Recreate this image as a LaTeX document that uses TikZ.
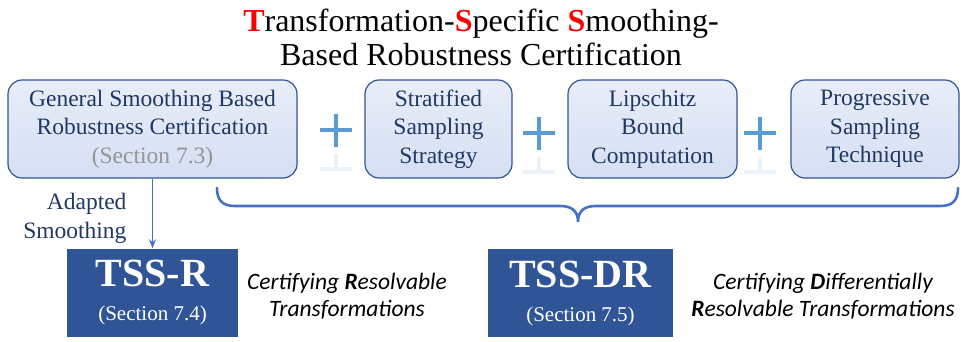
\documentclass[tikz,border=0pt]{standalone}
\usepackage{fontspec}
\setmainfont{Liberation Serif}
\newfontfamily\calib{Carlito}
\usetikzlibrary{arrows.meta}
\definecolor{navy}{HTML}{203864}
\definecolor{boxedge}{HTML}{2F5597}
\definecolor{boxtop}{HTML}{E8EDF8}
\definecolor{boxbot}{HTML}{D6DFF3}
\definecolor{darkbox}{HTML}{2F5597}
\definecolor{plusblue}{HTML}{5B9BD5}
\definecolor{bracecol}{HTML}{4472C4}
\definecolor{secgray}{HTML}{959595}
\tikzset{
  lightbox/.style={draw=boxedge, line width=1.2pt, rounded corners=14pt,
    top color=boxtop, bottom color=boxbot, minimum height=98pt,
    align=center, text=navy, inner sep=0pt,
    font=\fontsize{23.5}{28.5}\selectfont},
  darkboxst/.style={fill=darkbox, draw=none, minimum height=88pt,
    align=center, text=white, inner sep=0pt,
    font=\fontsize{21}{34}\selectfont},
  plusbar/.style={line width=4.5pt, plusblue},
  plusrefl/.style={line width=4.5pt, plusblue!13},
  ital/.style={align=center, font=\calib\itshape\fontsize{23.5}{27.5}\selectfont},
}
\begin{document}
\begin{tikzpicture}[x=1pt,y=-1pt]
\useasboundingbox (0,0) rectangle (963,341);
% title
\node[align=center, font=\fontsize{32}{34}\selectfont] (title) at (481,37)
  {\textcolor{red}{\textbf{T}}ransformation-\textcolor{red}{\textbf{S}}pecific \textcolor{red}{\textbf{S}}moothing-\\Based Robustness Certification};
% top boxes
\node[lightbox, minimum width=289pt] (b1) at (152.5,129)
  {General Smoothing Based\\Robustness Certification\\\textcolor{secgray}{(Section 7.3)}};
\node[lightbox, minimum width=147pt] (b2) at (438.5,129)
  {Stratified\\Sampling\\Strategy};
\node[lightbox, minimum width=169pt] (b3) at (652.5,129)
  {Lipschitz\\Bound\\Computation};
\node[lightbox, minimum width=168pt] (b4) at (875,129)
  {Progressive\\Sampling\\Technique};
% plus signs with faint reflections
\foreach \px/\py in {336/130, 539/133, 760/133}{
  \draw[plusbar] (\px-16,\py) -- (\px+16,\py);
  \draw[plusbar] (\px,\py-16.5) -- (\px,\py+16.5);
  \draw[plusrefl] (\px,\py+24) -- (\px,\py+38);
  \draw[plusrefl] (\px-16,\py+39) -- (\px+16,\py+39);
}
% brace
\draw[bracecol, line width=2.6pt, line cap=round]
  (217,188) .. controls (217,200) and (222,206) .. (235,206) -- (560,206)
  .. controls (572,206) and (578,211) .. (578,222)
  .. controls (578,211) and (584,206) .. (596,206) -- (940,206)
  .. controls (953,206) and (958,200) .. (958,188);
% bottom boxes
\node[darkboxst, minimum width=171pt] (tssr) at (152.5,292.5)
  {{\fontsize{40}{34}\selectfont\textbf{TSS-R}}\\(Section 7.4)};
\node[darkboxst, minimum width=185pt] (tssdr) at (580.5,293)
  {{\fontsize{40}{34}\selectfont\textbf{TSS-DR}}\\(Section 7.5)};
% arrow
\draw[bracecol, line width=1.8pt, -{Stealth[length=9pt,width=7pt]}] (b1.south) -- (tssr.north);
\node[anchor=east, align=right, text=navy, font=\fontsize{23.5}{29}\selectfont] (adapt) at (130,218)
  {Adapted\\Smoothing};
% descriptions
\node[ital] (d1) at (347,296) {Certifying \textbf{R}esolvable\\Transformations};
\node[ital] (d2) at (823,296) {Certifying \textbf{D}ifferentially\\\textbf{R}esolvable Transformations};
\end{tikzpicture}
\end{document}
